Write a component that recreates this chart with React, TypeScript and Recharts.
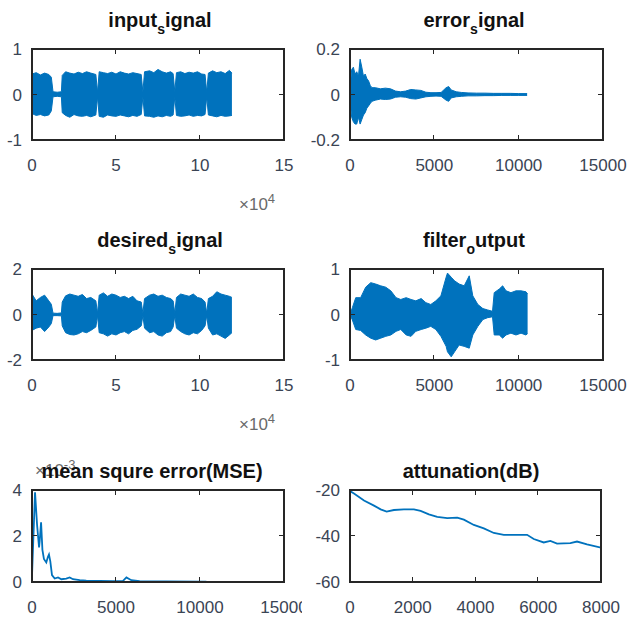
import React from 'react';
import { ComposedChart, Area, Line, XAxis, YAxis } from 'recharts';

const BLUE = '#0072BD';
const AXIS = '#262626';
const TICK_TEXT = '#3a4454';

// input_signal: sample index, upper / lower envelope
const inputX = [0, 2500, 5000, 7500, 10000, 11500, 12500, 15000, 17500, 18000, 20000, 22500, 25000, 27500, 30000, 32500, 35000, 38000, 39000, 40000, 42500, 45000, 47500, 50000, 52500, 55000, 57500, 60000, 62500, 65000, 66000, 67000, 70000, 72500, 75000, 77500, 80000, 82500, 84000, 85000, 86000, 88500, 91000, 93500, 96000, 98500, 101000, 103000, 104000, 105000, 107500, 110000, 112500, 115000, 117500, 119000];
const inputHi = [0.45, 0.48, 0.43, 0.47, 0.44, 0.38, 0.06, 0.05, 0.06, 0.42, 0.5, 0.47, 0.45, 0.49, 0.46, 0.5, 0.47, 0.44, 0.05, 0.5, 0.48, 0.46, 0.49, 0.45, 0.5, 0.47, 0.45, 0.48, 0.46, 0.44, 0.05, 0.5, 0.52, 0.48, 0.55, 0.5, 0.47, 0.5, 0.46, 0.06, 0.48, 0.5, 0.46, 0.49, 0.47, 0.5, 0.45, 0.44, 0.05, 0.47, 0.52, 0.48, 0.5, 0.46, 0.53, 0.47];
const inputLo = [-0.42, -0.46, -0.44, -0.47, -0.45, -0.36, -0.05, -0.04, -0.05, -0.4, -0.46, -0.5, -0.44, -0.47, -0.48, -0.46, -0.49, -0.45, -0.05, -0.48, -0.5, -0.45, -0.47, -0.48, -0.45, -0.47, -0.49, -0.46, -0.48, -0.44, -0.05, -0.47, -0.48, -0.5, -0.47, -0.49, -0.46, -0.48, -0.45, -0.05, -0.46, -0.48, -0.47, -0.45, -0.48, -0.46, -0.47, -0.44, -0.05, -0.45, -0.47, -0.49, -0.46, -0.48, -0.47, -0.46];

// desired_signal: same sample grid as input
const desiredHi = [0.9, 0.6, 0.75, 0.85, 0.6, 0.45, 0.06, 0.05, 0.07, 0.55, 0.82, 0.9, 0.85, 0.8, 0.88, 0.7, 0.75, 0.6, 0.06, 0.85, 0.95, 0.8, 0.9, 0.85, 0.75, 0.8, 0.7, 0.8, 0.6, 0.55, 0.06, 0.7, 0.85, 0.9, 0.8, 0.85, 0.75, 0.7, 0.6, 0.06, 0.75, 0.9, 0.85, 0.8, 0.9, 0.75, 0.7, 0.55, 0.06, 0.7, 0.8, 1.0, 0.9, 0.85, 0.8, 0.75];
const desiredLo = [-0.7, -0.6, -0.55, -0.75, -0.55, -0.4, -0.05, -0.05, -0.06, -0.5, -0.8, -0.88, -0.9, -0.85, -0.75, -0.8, -0.7, -0.55, -0.05, -0.8, -0.85, -0.95, -0.85, -0.9, -0.8, -0.75, -0.85, -0.7, -0.65, -0.5, -0.05, -0.6, -0.8, -0.75, -0.9, -0.95, -0.8, -0.75, -0.55, -0.05, -0.6, -0.75, -0.85, -0.9, -0.8, -0.85, -0.7, -0.5, -0.05, -0.6, -0.9, -0.85, -0.95, -1.05, -0.9, -0.8];

// error_signal
const errX = [0, 100, 200, 300, 400, 500, 600, 700, 800, 900, 1000, 1100, 1200, 1300, 1500, 1800, 2100, 2400, 2700, 3000, 3300, 3600, 3900, 4200, 4500, 4800, 5100, 5400, 5700, 5850, 6000, 6300, 6600, 7000, 7500, 8000, 8500, 9000, 9500, 10000, 10500];
const errHi = [0.02, 0.11, 0.12, 0.09, 0.1, 0.08, 0.155, 0.12, 0.08, 0.09, 0.07, 0.06, 0.04, 0.03, 0.03, 0.025, 0.028, 0.025, 0.015, 0.012, 0.015, 0.022, 0.02, 0.018, 0.01, 0.008, 0.008, 0.009, 0.03, 0.035, 0.02, 0.012, 0.009, 0.007, 0.006, 0.006, 0.005, 0.005, 0.005, 0.004, 0.004];
const errLo = [-0.02, -0.1, -0.12, -0.13, -0.13, -0.1, -0.13, -0.11, -0.09, -0.08, -0.06, -0.05, -0.04, -0.03, -0.025, -0.02, -0.022, -0.02, -0.012, -0.01, -0.012, -0.018, -0.02, -0.015, -0.01, -0.008, -0.007, -0.008, -0.025, -0.03, -0.015, -0.01, -0.008, -0.006, -0.006, -0.005, -0.005, -0.004, -0.004, -0.004, -0.004];

// filter_output
const filtX = [0, 140, 340, 630, 930, 1230, 1520, 1820, 2120, 2420, 2730, 3010, 3330, 3620, 3900, 4220, 4500, 4790, 5090, 5390, 5700, 5780, 6000, 6200, 6470, 6770, 7070, 7280, 7580, 7880, 8160, 8450, 8550, 8850, 9050, 9250, 9540, 9840, 10140, 10430, 10530];
const filtHi = [0, 0.15, 0.37, 0.37, 0.6, 0.7, 0.67, 0.63, 0.6, 0.52, 0.37, 0.33, 0.37, 0.33, 0.3, 0.35, 0.26, 0.22, 0.3, 0.41, 0.82, 0.91, 0.82, 0.74, 0.67, 0.63, 0.85, 0.41, 0.22, 0.13, 0.1, 0.07, 0.48, 0.56, 0.63, 0.52, 0.48, 0.52, 0.52, 0.5, 0.45];
const filtLo = [0, -0.12, -0.33, -0.35, -0.45, -0.52, -0.56, -0.52, -0.48, -0.45, -0.37, -0.33, -0.45, -0.48, -0.37, -0.33, -0.3, -0.26, -0.33, -0.48, -0.7, -0.82, -0.93, -0.82, -0.67, -0.7, -0.74, -0.45, -0.26, -0.11, -0.07, -0.05, -0.45, -0.45, -0.52, -0.45, -0.41, -0.45, -0.41, -0.45, -0.42];

// mean square error, in units of 1e-3
const mseX = [0, 180, 300, 420, 460, 540, 620, 710, 850, 950, 1010, 1090, 1190, 1350, 1550, 1750, 2040, 2240, 2440, 2840, 3230, 4030, 4820, 5420, 5620, 5910, 6410, 8000, 9980, 10380];
const mseY = [0.26, 3.9, 2.5, 1.5, 1.8, 2.6, 1.4, 1.0, 0.85, 1.1, 1.2, 0.9, 0.3, 0.15, 0.2, 0.12, 0.15, 0.2, 0.12, 0.08, 0.06, 0.05, 0.04, 0.05, 0.2, 0.08, 0.04, 0.03, 0.02, 0.02];

// attenuation (dB)
const attX = [0, 127, 446, 764, 976, 1167, 1400, 1719, 2037, 2250, 2515, 2780, 3098, 3417, 3629, 3947, 4265, 4584, 4902, 5220, 5645, 5857, 6175, 6387, 6599, 7024, 7236, 7554, 8000];
const attY = [-20.5, -21.5, -24.6, -26.8, -28.4, -29.4, -28.7, -28.4, -28.4, -29.1, -30.6, -31.7, -32.2, -32, -32.9, -35.2, -36.7, -38.7, -39.5, -39.5, -39.5, -41.3, -42.8, -42.1, -43.3, -43.1, -42.4, -43.6, -45.1];

const band = (xs: number[], hi: number[], lo: number[]) => xs.map((x, i) => ({ x, v: [lo[i], hi[i]] }));
const line = (xs: number[], ys: number[]) => xs.map((x, i) => ({ x, v: ys[i] }));

const fmtPlain = (v: number) => String(Math.round(v * 100) / 100);
const fmtE4 = (v: number) => String(v / 10000);
const fmtOne = (v: number) => (v === 0 ? '0' : v.toFixed(1));

type PanelProps = {
  box: [number, number, number, number];
  padR: number;
  data: any[];
  xDomain: [number, number];
  xTicks: number[];
  xFmt?: (v: number) => string;
  yDomain: [number, number];
  yTicks: number[];
  yFmt?: (v: number) => string;
  kind: 'band' | 'line';
};

// MATLAB style box with ticks pointing inward on all four sides
function Frame({ box, xDomain, xTicks, yDomain, yTicks }: Pick<PanelProps, 'box' | 'xDomain' | 'xTicks' | 'yDomain' | 'yTicks'>) {
  const [bx, by, bw, bh] = box;
  const tx = (v: number) => ((v - xDomain[0]) / (xDomain[1] - xDomain[0])) * bw;
  const ty = (v: number) => bh - ((v - yDomain[0]) / (yDomain[1] - yDomain[0])) * bh;
  const mark = (s: React.CSSProperties, k: string) => (
    <div key={k} style={{ position: 'absolute', background: AXIS, ...s }} />
  );
  return (
    <div style={{ position: 'absolute', left: bx - 1, top: by - 1, width: bw - 2, height: bh - 2,
      border: `2px solid ${AXIS}`, boxSizing: 'content-box', pointerEvents: 'none' }}>
      {xTicks.map((t) => mark({ left: Math.round(tx(t)) - 2, bottom: 0, width: 1, height: 4 }, 'b' + t))}
      {xTicks.map((t) => mark({ left: Math.round(tx(t)) - 2, top: 0, width: 1, height: 4 }, 't' + t))}
      {yTicks.map((t) => mark({ top: Math.round(ty(t)) - 2, left: 0, width: 4, height: 1 }, 'l' + t))}
      {yTicks.map((t) => mark({ top: Math.round(ty(t)) - 2, right: 0, width: 4, height: 1 }, 'r' + t))}
    </div>
  );
}

function Panel({ box, padR, data, xDomain, xTicks, xFmt = fmtPlain, yDomain, yTicks, yFmt = fmtPlain, kind }: PanelProps) {
  const [bx, by, bw, bh] = box;
  const padL = 60;
  const padT = 10;
  const padB = 40;
  const tickFont = { fill: TICK_TEXT, fontSize: 17 };
  return (
    <>
      <div style={{ position: 'absolute', left: bx - padL, top: by - padT }}>
        <ComposedChart
          width={bw + padL + padR}
          height={bh + padT + padB}
          data={data}
          margin={{ top: padT, right: padR, bottom: 0, left: 0 }}
        >
          <XAxis type="number" dataKey="x" domain={xDomain} ticks={xTicks} interval={0}
            allowDataOverflow height={padB} tickFormatter={xFmt}
            axisLine={false} tickLine={false} tickSize={4} tickMargin={15} tick={tickFont} />
          <YAxis type="number" domain={yDomain} ticks={yTicks} interval={0}
            allowDataOverflow width={padL} tickFormatter={yFmt}
            axisLine={false} tickLine={false} tickSize={4} tickMargin={6} tick={tickFont} />
          {kind === 'band' ? (
            <Area type="linear" dataKey="v" stroke={BLUE} strokeWidth={1}
              fill={BLUE} fillOpacity={1} dot={false} activeDot={false} isAnimationActive={false} />
          ) : (
            <Line type="linear" dataKey="v" stroke={BLUE} strokeWidth={1.8}
              dot={false} activeDot={false} isAnimationActive={false} />
          )}
        </ComposedChart>
      </div>
      <Frame box={box} xDomain={xDomain} xTicks={xTicks} yDomain={yDomain} yTicks={yTicks} />
    </>
  );
}

function Title({ cx, top, children }: { cx: number; top: number; children: React.ReactNode }) {
  return (
    <div style={{ position: 'absolute', left: cx - 150, top, width: 300, textAlign: 'center',
      fontSize: 20, fontWeight: 'bold', lineHeight: '22px', color: '#111', whiteSpace: 'nowrap' }}>
      {children}
    </div>
  );
}

const Sub = ({ children }: { children: React.ReactNode }) => (
  <span style={{ fontSize: 14, position: 'relative', top: 7 }}>{children}</span>
);

function Exponent({ left, top, power }: { left: number; top: number; power: string }) {
  return (
    <div style={{ position: 'absolute', left, top, fontSize: 17, lineHeight: '17px', color: '#6a6a6a', whiteSpace: 'nowrap' }}>
      ×10<span style={{ fontSize: 13, position: 'relative', top: -7 }}>{power}</span>
    </div>
  );
}

export default function App() {
  const L: [number, number] = [32, 252];
  const R: [number, number] = [350, 253];
  return (
    <div style={{ position: 'absolute', left: 0, top: 0, width: 628, height: 624, overflow: 'hidden',
      background: '#fff', fontFamily: '"Liberation Sans", Arial, Helvetica, sans-serif' }}>
      <Panel box={[L[0], 49, L[1], 91]} padR={18} kind="band" data={band(inputX, inputHi, inputLo)}
        xDomain={[0, 150000]} xTicks={[0, 50000, 100000, 150000]} xFmt={fmtE4}
        yDomain={[-1, 1]} yTicks={[-1, 0, 1]} />
      <Panel box={[R[0], 49, R[1], 91]} padR={30} kind="band" data={band(errX, errHi, errLo)}
        xDomain={[0, 15000]} xTicks={[0, 5000, 10000, 15000]}
        yDomain={[-0.2, 0.2]} yTicks={[-0.2, 0, 0.2]} yFmt={fmtOne} />
      <Panel box={[L[0], 269, L[1], 91]} padR={18} kind="band" data={band(inputX, desiredHi, desiredLo)}
        xDomain={[0, 150000]} xTicks={[0, 50000, 100000, 150000]} xFmt={fmtE4}
        yDomain={[-2, 2]} yTicks={[-2, 0, 2]} />
      <Panel box={[R[0], 269, R[1], 91]} padR={30} kind="band" data={band(filtX, filtHi, filtLo)}
        xDomain={[0, 15000]} xTicks={[0, 5000, 10000, 15000]}
        yDomain={[-1, 1]} yTicks={[-1, 0, 1]} />
      <Exponent left={35} top={462} power="-3" />
      <Panel box={[L[0], 490, L[1], 92]} padR={18} kind="line" data={line(mseX, mseY)}
        xDomain={[0, 15000]} xTicks={[0, 5000, 10000, 15000]}
        yDomain={[0, 4]} yTicks={[0, 2, 4]} />
      <Panel box={[R[0], 490, 251, 92]} padR={30} kind="line" data={line(attX, attY)}
        xDomain={[0, 8000]} xTicks={[0, 2000, 4000, 6000, 8000]}
        yDomain={[-60, -20]} yTicks={[-60, -40, -20]} />

      <Title cx={160} top={9}>input<Sub>s</Sub>ignal</Title>
      <Title cx={474} top={9}>error<Sub>s</Sub>ignal</Title>
      <Title cx={160} top={229}>desired<Sub>s</Sub>ignal</Title>
      <Title cx={474} top={229}>filter<Sub>o</Sub>utput</Title>
      <Title cx={152} top={460}>mean squre error(MSE)</Title>
      <Title cx={471} top={460}>attunation(dB)</Title>

      <Exponent left={239} top={196} power="4" />
      <Exponent left={239} top={416} power="4" />
    </div>
  );
}
